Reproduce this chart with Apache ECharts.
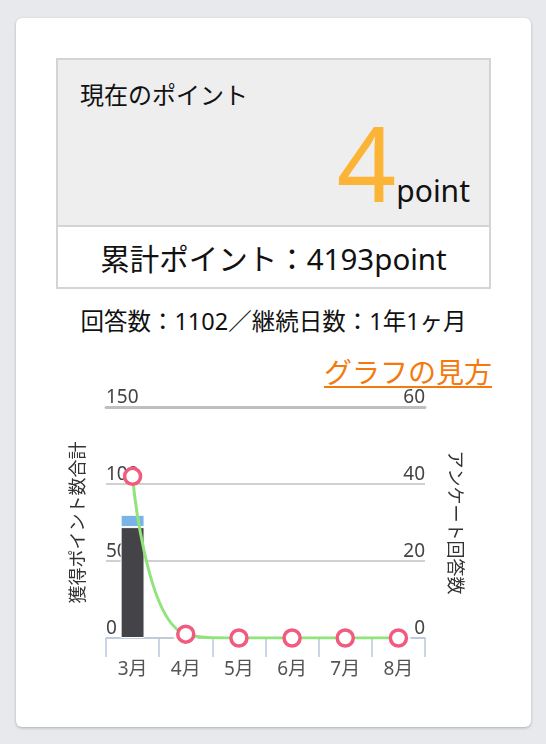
<!DOCTYPE html>
<html>
<head>
<meta charset="utf-8">
<script src="https://cdn.jsdelivr.net/npm/echarts@6/dist/echarts.min.js"></script>
<style>
  html, body { margin: 0; padding: 0; }
  body {
    width: 546px; height: 744px; position: relative; overflow: hidden;
    background: #e8e9ec;
    font-family: "Noto Sans", "Noto Sans CJK JP", sans-serif;
    color: #111;
  }
  .card {
    position: absolute; left: 16px; top: 18px; width: 515px; height: 709px;
    background: #fff; border-radius: 6px;
    box-shadow: 0 1px 3px rgba(0, 0, 0, 0.25);
  }
  .box {
    position: absolute; left: 56px; top: 58px; width: 431px; height: 227px;
    border: 2px solid #d4d4d4;
  }
  .box-top {
    position: absolute; left: 0; top: 0; width: 431px; height: 165px;
    background: #eeeeee; border-bottom: 2px solid #d4d4d4;
  }
  .txt { position: absolute; line-height: 1; white-space: nowrap; }
  #chart { position: absolute; left: 0; top: 0; width: 546px; height: 744px; }
</style>
</head>
<body>
<div class="card"></div>
<div class="box"><div class="box-top"></div></div>
<div class="txt" style="left:80px; top:83px; font-size:24px;">現在のポイント</div>
<div class="txt" style="left:0; width:470px; top:110px; text-align:right; line-height:104px; height:104px;">
  <span style="font-size:104px; color:#fbb435;">4</span><span style="font-size:30px; line-height:1;">point</span>
</div>
<div class="txt" style="left:56px; width:435px; top:244px; text-align:center; font-size:29.5px;">累計ポイント：4193point</div>
<div class="txt" style="left:56px; width:435px; top:310px; text-align:center; font-size:23.5px;">回答数：1102／継続日数：1年1ヶ月</div>
<div class="txt" style="left:0; width:492px; top:358px; text-align:right; font-size:28px; color:#f47a10; text-decoration:underline; text-decoration-thickness:2px; text-underline-offset:3px;">グラフの見方</div>
<div id="chart"></div>
<script>
var months = ['3月', '4月', '5月', '6月', '7月', '8月'];
var pointsMain = [72, 0, 0, 0, 0, 0];
var pointsExtra = [8, 1, 0, 0, 0, 0];
var answers = [42, 1, 0, 0, 0, 0];

var leftAxisName = '獲得ポイント数合計';
var rightAxisName = 'アンケート回答数';

var chart = echarts.init(document.getElementById('chart'));
var option = {
  animation: false,
  textStyle: { fontFamily: '"Noto Sans", "Noto Sans CJK JP", sans-serif' },
  grid: { left: 106, right: 121, top: 407, bottom: 106 },
  xAxis: [
    {
      type: 'category',
      data: months,
      z: 1,
      axisLine: { lineStyle: { color: '#b9c9dc', width: 1.5 } },
      axisTick: { show: true, length: 19, interval: 0, lineStyle: { color: '#b9c9dc', width: 1.5 } },
      axisLabel: { color: '#555', fontSize: 19, margin: 22, interval: 0 },
    },
    {
      // thick rule along the top of the plot
      type: 'category',
      data: months,
      position: 'top',
      axisLine: { onZero: false, lineStyle: { color: '#bfbfbf', width: 3 } },
      axisTick: { show: false },
      axisLabel: { show: false },
    },
  ],
  yAxis: [
    {
      type: 'value',
      min: 0, max: 150, interval: 50,
      name: leftAxisName,
      nameLocation: 'middle',
      nameGap: 18,
      nameTextStyle: { color: '#333', fontSize: 18 },
      axisLine: { show: false },
      axisTick: { show: false },
      axisLabel: { inside: true, margin: 0, color: '#444', fontSize: 19, verticalAlign: 'bottom' },
      splitLine: { lineStyle: { color: '#c0c0c0', width: 1.5 } },
    },
    {
      type: 'value',
      min: 0, max: 60, interval: 20,
      name: rightAxisName,
      nameLocation: 'middle',
      nameRotate: -90,
      nameGap: 20,
      nameTextStyle: { color: '#333', fontSize: 18 },
      axisLine: { show: false },
      axisTick: { show: false },
      axisLabel: { inside: true, margin: 0, color: '#444', fontSize: 19, verticalAlign: 'bottom' },
      splitLine: { show: false },
    },
  ],
  series: [
    {
      type: 'bar',
      stack: 'points',
      yAxisIndex: 0,
      barWidth: '45%',
      data: pointsMain,
      itemStyle: { color: '#444448', borderColor: '#fff', borderWidth: 1 },
    },
    {
      type: 'bar',
      stack: 'points',
      yAxisIndex: 0,
      barWidth: '45%',
      data: pointsExtra,
      itemStyle: { color: '#7ab3e8', borderColor: '#fff', borderWidth: 1 },
    },
    {
      type: 'line',
      yAxisIndex: 1,
      data: answers,
      smooth: true,
      z: 5,
      symbol: 'circle',
      symbolSize: 16,
      lineStyle: { color: '#8fe47a', width: 3 },
      itemStyle: { color: '#fff', borderColor: '#f25a7e', borderWidth: 3.5 },
    },
  ],
};
chart.setOption(option);
</script>
</body>
</html>
